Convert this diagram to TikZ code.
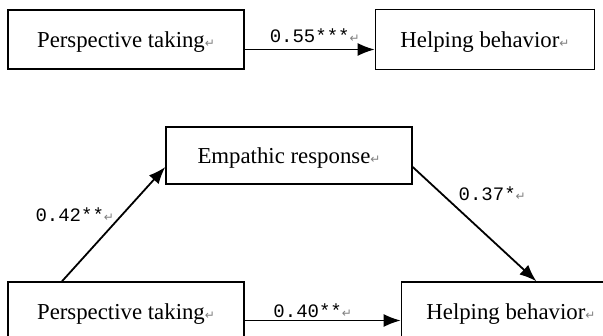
\documentclass[tikz,border=0pt]{standalone}
\usepackage{fontspec}
\setmainfont{Liberation Serif}
\newfontfamily\coeffont{Liberation Mono}
\newfontfamily\symfont{DejaVu Sans}
\usetikzlibrary{arrows.meta}
\usetikzlibrary{positioning}
\tikzset{>={Latex[length=8.5pt,width=6.5pt]}}
\newcommand{\retmark}{{\symfont\fontsize{6}{6}\selectfont\color{gray}↵}}
\tikzset{
  varbox/.style={draw, line width=0.7pt, inner sep=0pt, text depth=0pt, font=\fontsize{11.4}{13}\selectfont},
  coef/.style={inner sep=1pt, font=\coeffont\fontsize{9.5}{11}\selectfont},
  effect/.style={->, line width=0.9pt}
}

\begin{document}
\begin{tikzpicture}[x=0.5pt, y=-0.5pt]
        \useasboundingbox (0,0) rectangle (603,336);
        \clip (0,0) rectangle (603,336);

        % direct effect
        \node [varbox, minimum width=118pt, minimum height=29.5pt] (PTa) at (126,39.5) {Perspective taking\retmark};
        \node [varbox, minimum width=109.5pt, minimum height=30pt, right=65pt of PTa] (HBa) {Helping behavior\retmark};
        \draw [effect] ([yshift=-5pt]PTa.east)--node [coef, above=2pt, xshift=2.5pt] {0.55***\retmark} ([yshift=-5pt]HBa.west);

        % mediated effect
        \node [varbox, minimum width=123pt, minimum height=28.5pt] (ER) at (289,155.5) {Empathic response\retmark};
        \node [varbox, minimum width=118pt, minimum height=29.5pt] (PTb) at (126,311.5) {Perspective taking\retmark};
        \node [varbox, minimum width=109.5pt, minimum height=29.5pt, right=78pt of PTb] (HBb) {Helping behavior\retmark};
        \draw [effect] ([xshift=-32pt]PTb.north)--node [coef, pos=0.58, left=2.5pt] {0.42**\retmark} ([yshift=-5.75pt]ER.west);
        \draw [effect] ([yshift=-5.75pt]ER.east)--node [coef, pos=0.235, right=7pt] {0.37*\retmark} ([xshift=12.75pt]HBb.north);
        \draw [effect] ([yshift=-4.5pt]PTb.east)--node [coef, above, xshift=-5pt] {0.40**\retmark} ([yshift=-4.5pt]HBb.west);
    \end{tikzpicture}
\end{document}
